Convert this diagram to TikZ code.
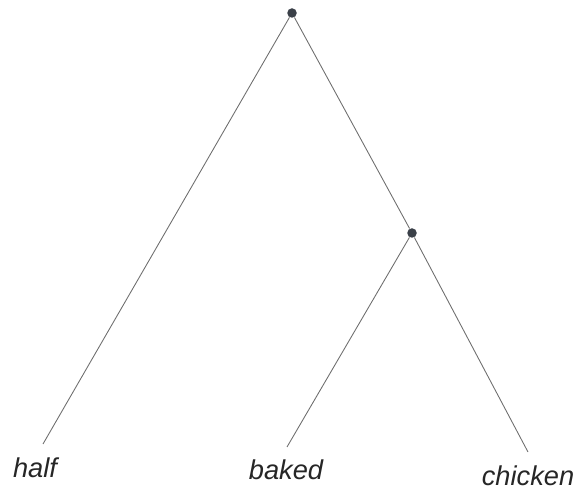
\documentclass[tikz,border=0pt]{standalone}
\usepackage{fontspec}
\setsansfont{Liberation Sans}
\usepackage{tikz}
\definecolor{branchgrey}{HTML}{6E6E6E}
\definecolor{dotgrey}{HTML}{3A4048}

\begin{document}
\begin{tikzpicture}[
  tnode/.style={circle, fill=dotgrey, minimum size=1.9mm, inner sep=0pt},
  leaf/.style={font=\sffamily\itshape\fontsize{15.5}{18}\selectfont, text=black!85, inner sep=0pt},
  branch/.style={branchgrey, line width=0.5pt},
]
\useasboundingbox (0,0) rectangle (11.54,-9.82);
% internal nodes
\node[tnode] (root) at (5.84,-0.26) {};
\node[tnode] (mid) at (8.24,-4.66) {};

% leaf ends
\coordinate (h) at (0.86,-8.88);
\coordinate (b) at (5.74,-8.94);
\coordinate (c) at (10.56,-9.04);

% words
\node[leaf] (half) at (0.70,-9.36) {half};
\node[leaf] (baked) at (5.72,-9.40) {baked};
\node[leaf] (chicken) at (10.56,-9.52) {chicken};

\draw[branch] (root) -- (h);
\draw[branch] (root) -- (mid);
\draw[branch] (mid) -- (b);
\draw[branch] (mid) -- (c);
\end{tikzpicture}
\end{document}
